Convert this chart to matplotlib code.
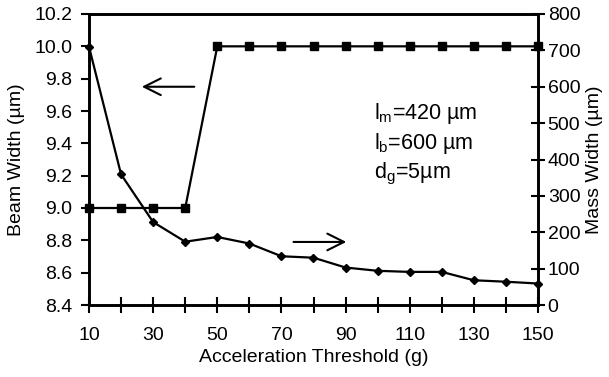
import numpy as np
import matplotlib
matplotlib.use('Agg')
import matplotlib.pyplot as plt

plt.rcParams['font.family'] = ['Liberation Sans', 'DejaVu Sans']
plt.rcParams['mathtext.fontset'] = 'custom'
plt.rcParams['mathtext.rm'] = 'Liberation Sans'
plt.rcParams['mathtext.it'] = 'Liberation Sans'

# data
accel = [10, 20, 30, 40, 50, 60, 70, 80, 90, 100, 110, 120, 130, 140, 150]
beam_width = [9.0, 9.0, 9.0, 9.0, 10.0, 10.0, 10.0, 10.0, 10.0, 10.0, 10.0, 10.0, 10.0, 10.0, 10.0]
mass_width = [710, 359, 228, 174, 187, 169, 134, 130, 103, 94, 91, 91, 68, 64, 59]

left_ticks = [8.4, 8.6, 8.8, 9.0, 9.2, 9.4, 9.6, 9.8, 10.0, 10.2]
right_ticks = [0, 100, 200, 300, 400, 500, 600, 700, 800]
x_ticks = [10, 30, 50, 70, 90, 110, 130, 150]

fs = 14

fig = plt.figure(figsize=(6.09, 3.77), dpi=100)
ax = fig.add_axes([89/609, 1 - 305/377, (538 - 89)/609, (305 - 14)/377])
ax2 = ax.twinx()

ax.plot(accel, beam_width, color='black', lw=1.6, marker='s', ms=6.3, zorder=3, clip_on=False)
ax2.plot(accel, mass_width, color='black', lw=1.6, marker='D', ms=4.5, zorder=3, clip_on=False)

ax.set_xlim(10, 150)
ax.set_ylim(8.4, 10.2)
ax2.set_ylim(0, 800)

ax.set_xticks(x_ticks)
ax.set_xticks(accel, minor=True)
ax.set_yticks(left_ticks)
ax.set_yticklabels(['%.1f' % v for v in left_ticks])
ax2.set_yticks(right_ticks)

for a in (ax, ax2):
    for s in a.spines.values():
        s.set_linewidth(1.9)
ax.tick_params(axis='x', which='both', direction='inout', length=11, width=1.5, labelsize=fs, pad=10)
ax.tick_params(axis='x', which='minor', labelbottom=False)
ax.tick_params(axis='y', direction='out', length=6, width=1.5, labelsize=fs, pad=6)
ax2.tick_params(axis='y', direction='inout', length=10, width=1.5, labelsize=fs, pad=2)

ax.set_xlabel('Acceleration Threshold (g)', fontsize=fs, labelpad=4)
ax.set_ylabel('Beam Width (\u00b5m)', fontsize=fs, labelpad=7)
ax2.set_ylabel('Mass Width (\u00b5m)', fontsize=fs, labelpad=4)

# arrows pointing to the axis each series uses
ax.annotate('', xy=(25.6, 9.75), xytext=(43.7, 9.75),
            arrowprops=dict(arrowstyle='->', color='black', lw=1.5, mutation_scale=30))
ax.annotate('', xy=(91.1, 8.79), xytext=(72.9, 8.79),
            arrowprops=dict(arrowstyle='->', color='black', lw=1.5, mutation_scale=30))

notes = ['l$_\\mathrm{m}$=420 \u00b5m', 'l$_\\mathrm{b}$=600 \u00b5m', 'd$_\\mathrm{g}$=5\u00b5m']
for txt, ypix in zip(notes, [113, 143, 174]):
    fig.text(374/609, 1 - ypix/377, txt, fontsize=15.5, va='center', ha='left')

fig.savefig('out.png', dpi=100)
